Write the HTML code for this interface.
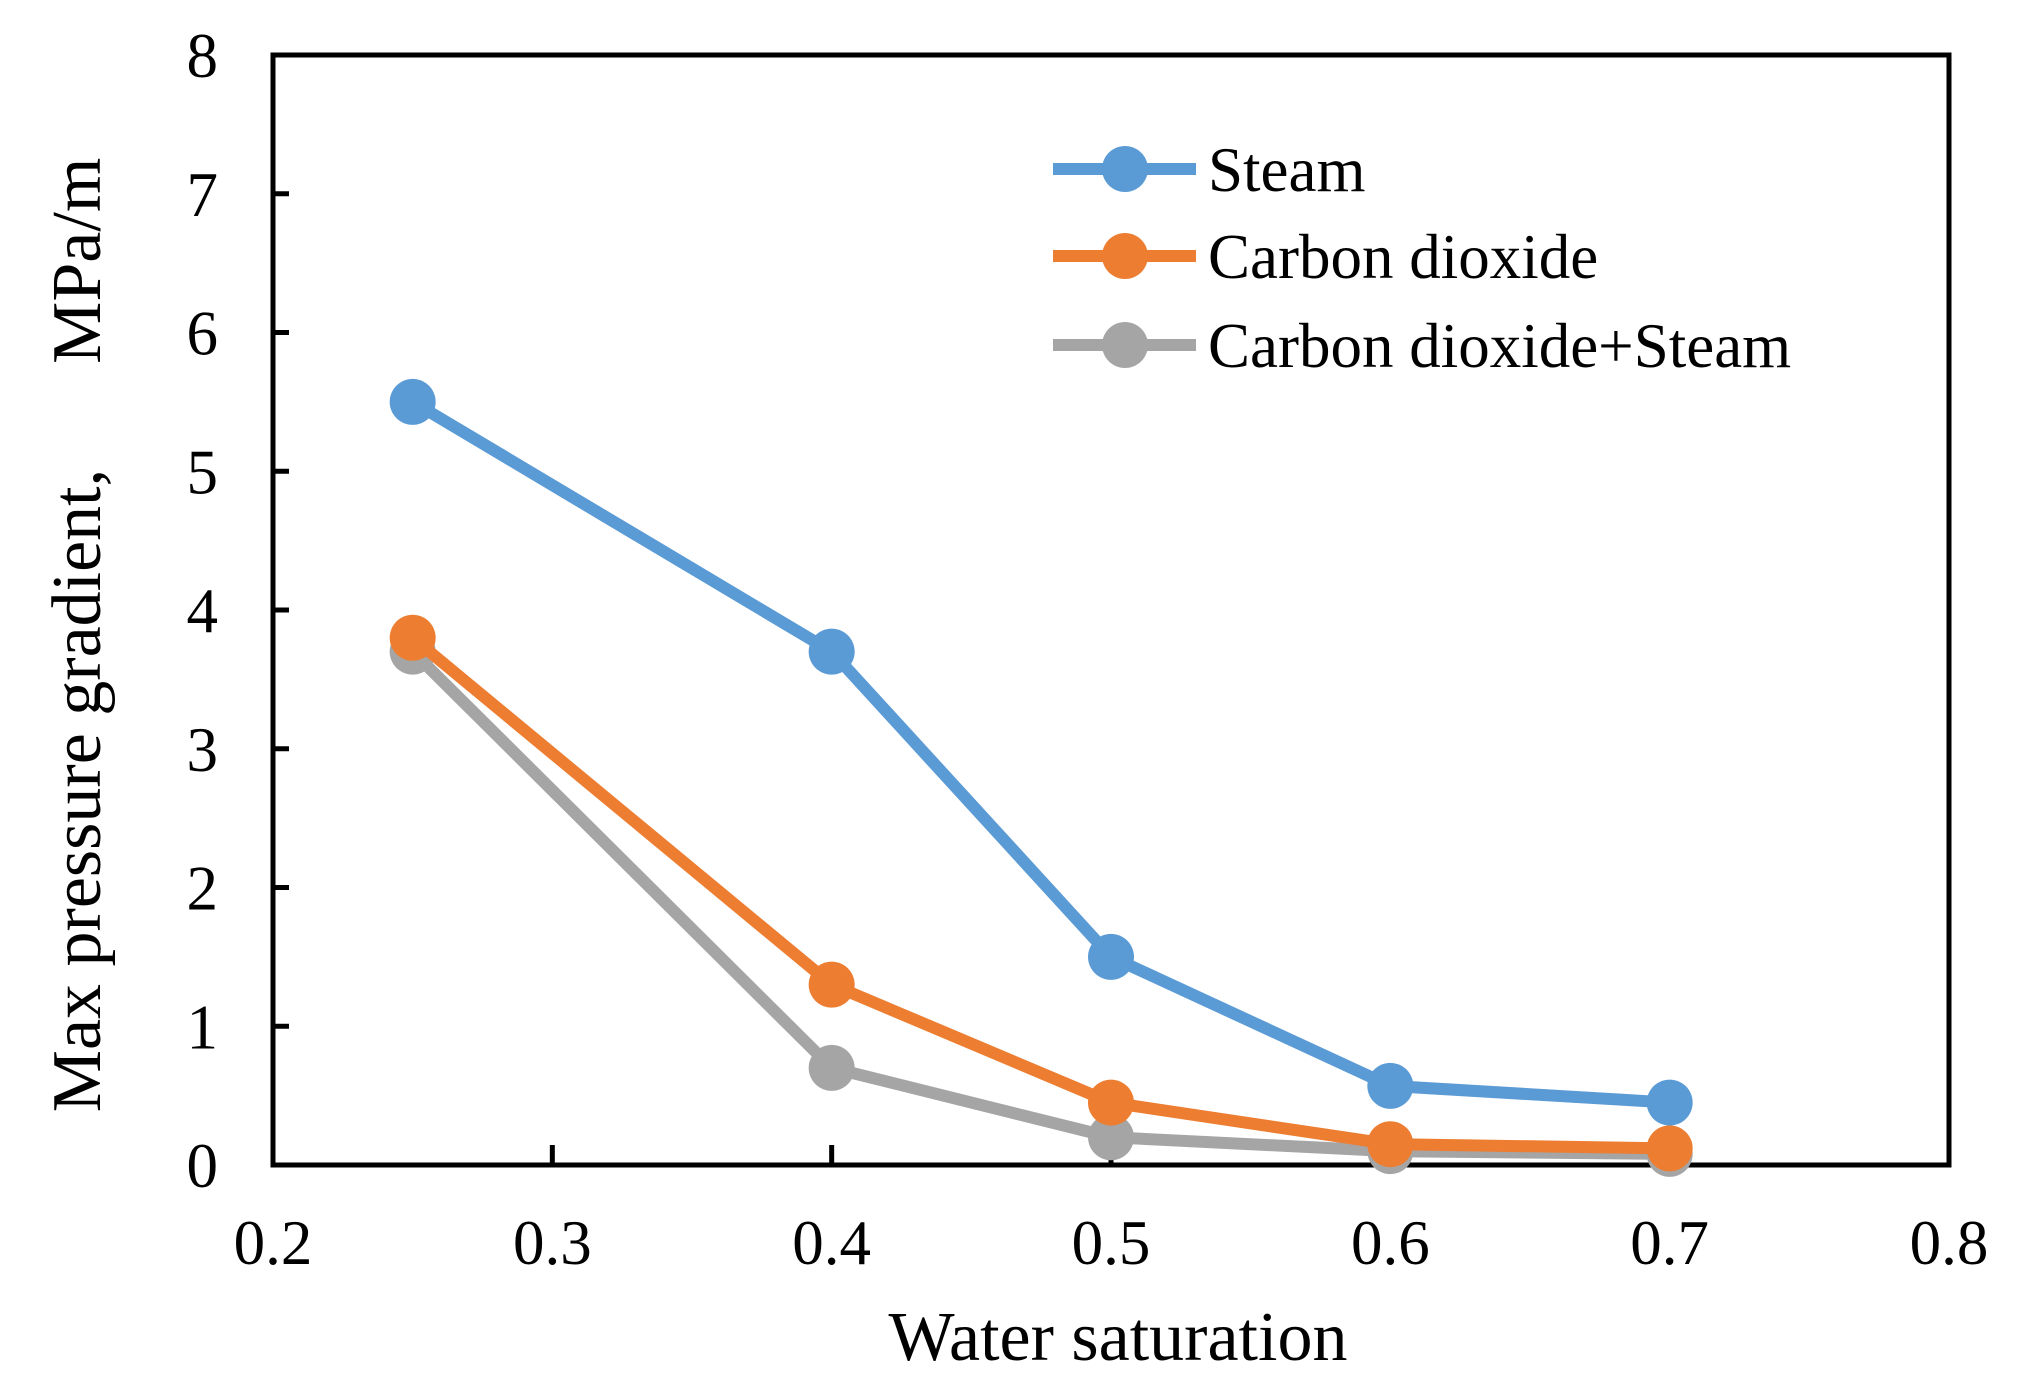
<!DOCTYPE html>
<html><head><meta charset="utf-8"><style>
html,body{margin:0;padding:0;background:#fff;}
svg{display:block;font-family:"Liberation Serif",serif;}
</style></head><body>
<svg id="chart" width="2029" height="1399" viewBox="0 0 2029 1399" xmlns="http://www.w3.org/2000/svg">
<rect width="2029" height="1399" fill="#fff"/>
<g id="plot"></g>
</svg>
<script>
const xValues = [0.25, 0.4, 0.5, 0.6, 0.7];
const steamValues = [5.5, 3.7, 1.5, 0.57, 0.45];
const co2Values = [3.8, 1.3, 0.45, 0.15, 0.12];
const mixValues = [3.7, 0.7, 0.2, 0.1, 0.08];
const xTickLabels = ["0.2","0.3","0.4","0.5","0.6","0.7","0.8"];
const yTickLabels = ["0","1","2","3","4","5","6","7","8"];
const seriesNames = ["Steam","Carbon dioxide","Carbon dioxide+Steam"];

const L=273,R=1949,T=55,B=1165;
const xMin=0.2,xMax=0.8,yMin=0,yMax=8;
const sx=v=>L+(v-xMin)/(xMax-xMin)*(R-L);
const sy=v=>B-(v-yMin)/(yMax-yMin)*(B-T);
const NS="http://www.w3.org/2000/svg";
const g=document.getElementById('plot');
function mk(tag,attrs,parent){const e=document.createElementNS(NS,tag);for(const k in attrs)e.setAttribute(k,attrs[k]);(parent||g).appendChild(e);return e;}

const frame=mk('rect',{x:L,y:T,width:R-L,height:B-T,fill:'none',stroke:'#000','stroke-width':5});



xTickLabels.forEach(t=>{
  const v=parseFloat(t),x=sx(v);
  const tk=mk('line',{x1:x,x2:x,y1:B,y2:B-20,stroke:'#000','stroke-width':5});
  
  
  const tx=mk('text',{x:x,y:1264,'text-anchor':'middle','font-size':63,fill:'#000'});
  tx.textContent=t;
  
  
});
yTickLabels.forEach(t=>{
  const v=parseFloat(t),y=sy(v);
  const tk=mk('line',{x1:L,x2:L+16,y1:y,y2:y,stroke:'#000','stroke-width':5});
  
  
  const tx=mk('text',{x:218,y:y+22,'text-anchor':'end','font-size':63,fill:'#000'});
  tx.textContent=t;
  
  
});

const xt=mk('text',{x:1118,y:1360,'text-anchor':'middle','font-size':70,fill:'#000'});
xt.textContent='Water saturation';


const yt=mk('text',{x:0,y:0,'text-anchor':'middle','font-size':70,fill:'#000',transform:'translate(100,635) rotate(-90)',style:'white-space:pre'});
yt.textContent='Max pressure gradient,      MPa/m';



const series=[[steamValues,'#5B9BD5','steam'],[co2Values,'#ED7D31','carbon-dioxide'],[mixValues,'#A5A5A5','carbon-dioxide-steam']];
series.slice().reverse().forEach(([vals,col,nm])=>{
  const pts=vals.map((v,i)=>sx(xValues[i])+','+sy(v)).join(' ');
  const pl=mk('polyline',{points:pts,fill:'none',stroke:col,'stroke-width':12,'stroke-linejoin':'round'});
  
  
  vals.forEach((v,i)=>{
    const c=mk('circle',{cx:sx(xValues[i]),cy:sy(v),r:23,fill:col});
    
    
  });
});

const legY=[169,256,345];
series.forEach(([vals,col,nm],i)=>{
  const y=legY[i];
  const ln=mk('line',{x1:1053,x2:1196,y1:y,y2:y,stroke:col,'stroke-width':12});
  
  
  const c=mk('circle',{cx:1125,cy:y,r:23,fill:col});
  
  
  const t=mk('text',{x:1208,y:y+22,'font-size':63,fill:'#000'});
  t.textContent=seriesNames[i];
  
  
});
</script>
</body></html>
